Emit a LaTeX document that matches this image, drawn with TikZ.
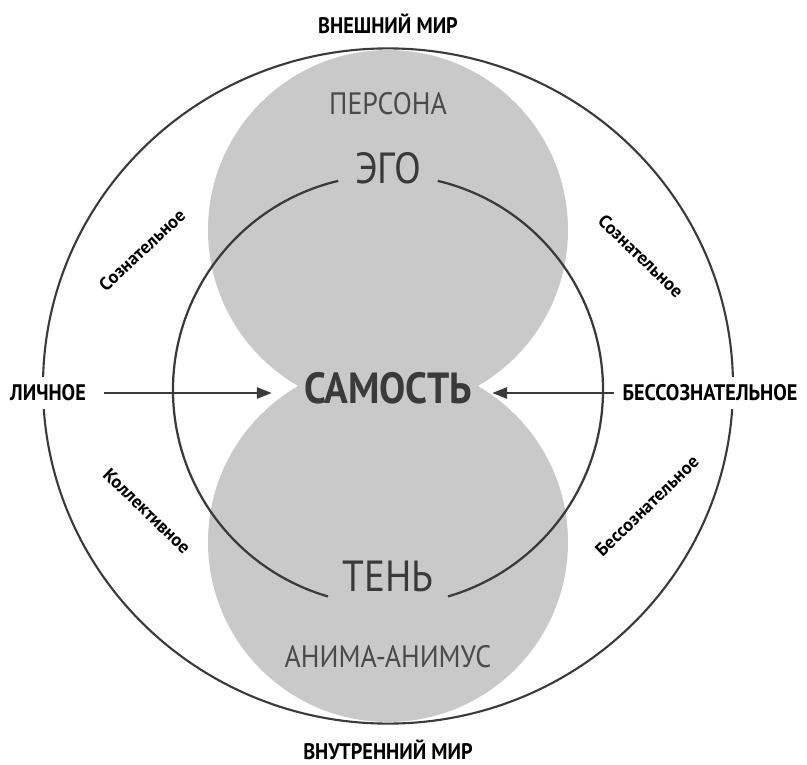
\documentclass[tikz,border=0pt]{standalone}
\usepackage{fontspec}
\setmainfont[FakeStretch=0.9]{PT Sans}
\newfontfamily\diagfont{PT Sans}
\usetikzlibrary{arrows.meta}
\definecolor{discgray}{HTML}{C9C9C9}
\definecolor{linegray}{HTML}{3A3A3A}
\definecolor{labelgray}{HTML}{4A4A4A}
\begin{document}
\begin{tikzpicture}[
    world/.style={font=\bfseries\fontsize{16}{18}\selectfont},
    side/.style={font=\diagfont\bfseries\fontsize{13}{15}\selectfont},
    archetype/.style={font=\fontsize{22}{26}\selectfont, text=labelgray},
    centre/.style={font=\fontsize{31}{36}\selectfont, text=linegray},
    arrow/.style={-{Triangle[length=0.375cm,width=0.28cm]}, line width=1.6pt, draw=linegray}
]
    \useasboundingbox (-9.7,-9.35) rectangle (10.475,9.75);

    \fill[discgray] (0,4.0) circle (4.5);
    \fill[discgray] (0,-3.8) circle (4.5);
    \draw[linegray, line width=1.5pt] (0,0.1) ellipse (8.625 and 8.44);
    \draw[linegray, line width=1.6pt] (76.6:5.375) arc (76.6:-73.8:5.375);
    \draw[linegray, line width=1.6pt] (103.4:5.375) arc (103.4:253.8:5.375);

    \node[world,inner sep=1pt] (outer) at (0, 9.15) {ВНЕШНИЙ МИР};
    \node[world,inner sep=1pt] (inner) at (0, -9.0) {ВНУТРЕННИЙ МИР};
    \node[world,fill=white,inner sep=0.2cm] (lichnoe) at (-8.5, -0.075) {ЛИЧНОЕ};
    \node[world,fill=white,inner sep=0.2cm] (bessozn) at (8.05, -0.075) {БЕССОЗНАТЕЛЬНОЕ};

    \node[archetype] (persona) at (0, 7.15) {ПЕРСОНА};
    \node[archetype] (anima) at (0, -6.675) {АНИМА-АНИМУС};
    \node[centre] (ego) at (0, 5.55) {ЭГО};
    \node[centre] (ten) at (0, -4.65) {ТЕНЬ};
    \node[centre,font=\bfseries\fontsize{31}{36}\selectfont,inner sep=0.2cm,
          text height=0.77cm,text depth=0.25cm] (samost) at (0, -0.075) {САМОСТЬ};

    \node[side,rotate=43] (soznL) at (-6.15, 3.5) {Сознательное};
    \node[side,rotate=-44] (soznR) at (6.325, 3.35) {Сознательное};
    \node[side,rotate=-44] (kollekt) at (-6.025, -3.025) {Коллективное};
    \node[side,rotate=44] (bessoznR) at (6.475, -2.9) {Бессознательное};

    \draw[arrow, shorten <=0.25cm, shorten >=0.6cm] (lichnoe) -- (samost);
    \draw[arrow, shorten <=0cm, shorten >=0.3cm] (bessozn) -- (samost);
\end{tikzpicture}
\end{document}
